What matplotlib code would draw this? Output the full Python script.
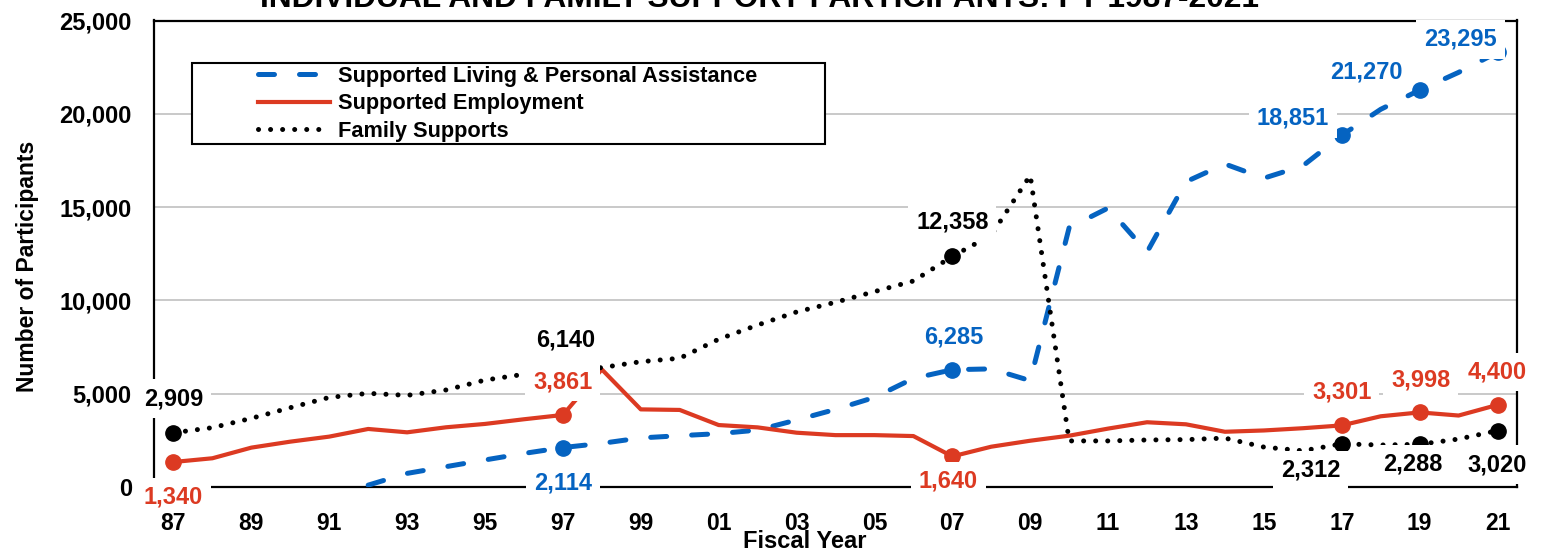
import numpy as np
import matplotlib.pyplot as plt
from matplotlib.patches import Rectangle

plt.rcParams['font.family'] = ['Liberation Sans', 'DejaVu Sans']
plt.rcParams['font.weight'] = 'bold'

title = "INDIVIDUAL AND FAMILY SUPPORT PARTICIPANTS: FY 1987-2021"

years = ['87', '88', '89', '90', '91', '92', '93', '94', '95', '96',
         '97', '98', '99', '00', '01', '02', '03', '04', '05', '06',
         '07', '08', '09', '10', '11', '12', '13', '14', '15', '16',
         '17', '18', '19', '20', '21']

nan = np.nan
living = [nan, nan, nan, nan, nan, 100, 730, 1090, 1450, 1800,
          2114, 2340, 2630, 2750, 2860, 3050, 3590, 4160, 4800, 5820,
          6285, 6330, 5700, 13900, 14950, 12590, 16360, 17310, 16550, 17210,
          18851, 20240, 21270, 22220, 23295]
employment = [1340, 1540, 2110, 2430, 2700, 3110, 2930, 3200, 3380, 3630,
              3861, 6300, 4160, 4130, 3320, 3195, 2910, 2780, 2780, 2730,
              1640, 2160, 2480, 2750, 3130, 3470, 3360, 2960, 3030, 3150,
              3301, 3790, 3998, 3830, 4400]
family = [2909, 3180, 3680, 4250, 4800, 5020, 4910, 5200, 5730, 6040,
          6140, 6400, 6715, 6900, 7920, 8680, 9380, 9900, 10470, 11040,
          12358, 13500, 16700, 2470, 2470, 2520, 2540, 2620, 2140, 1940,
          2312, 2250, 2288, 2570, 3020]

BLUE = '#0563C1'
RED = '#DC3A22'
BLACK = '#000000'

# label offsets in pixels (dx, dy) for each labeled year
off_family = {'87': (0, 34), '97': (3, 32), '07': (0, 34), '17': (-31, -26), '19': (-7, -20), '21': (0, -34)}
off_employment = {'87': (0, -35), '97': (0, 33), '07': (-4, -25), '17': (0, 33), '19': (1, 32), '21': (0, 33)}
off_living = {'97': (0, -35), '07': (1, 33), '17': (-49, 17), '19': (-53, 18), '21': (-37, 13)}

fig = plt.figure(figsize=(15.67, 5.54), dpi=100)
ax = fig.add_axes([154 / 1567, 1 - 487 / 554, 1363 / 1567, 466.5 / 554])

x = np.arange(len(years))
lw = 3.6

ax.plot(x, living, color=BLUE, lw=lw, dashes=(3.2, 5.0), dash_capstyle='round',
        solid_capstyle='round', label='Supported Living & Personal Assistance', zorder=3)
ax.plot(x, employment, color=RED, lw=3.0, solid_joinstyle='round',
        label='Supported Employment', zorder=3)
ax.plot(x, family, color=BLACK, lw=lw, dashes=(0.01, 2.4), dash_capstyle='round',
        label='Family Supports', zorder=3)

series = [(family, BLACK, off_family),
          (employment, RED, off_employment),
          (living, BLUE, off_living)]

for vals, color, offs in series:
    for yr in offs:
        i = years.index(yr)
        ax.plot(x[i], vals[i], 'o', color=color, ms=11, zorder=4)
for vals, color, offs in series:
    for yr, (dx, dy) in offs.items():
        i = years.index(yr)
        ax.annotate(f"{vals[i]:,.0f}", (x[i], vals[i]), xytext=(dx, dy),
                    textcoords='offset pixels', ha='center', va='center',
                    fontsize=17, fontweight='bold', color=color, zorder=10,
                    annotation_clip=False,
                    bbox=dict(boxstyle='square,pad=0.33', fc='white', ec='none'))

ax.set_xlim(-0.5, len(years) - 0.5)
ax.set_ylim(0, 25000)
ax.set_yticks(range(0, 25001, 5000))
ax.set_yticklabels([f"{v:,}" for v in range(0, 25001, 5000)])
ax.set_xticks(x[::2])
ax.set_xticklabels(years[::2])
ax.tick_params(axis='y', length=0, pad=16, labelsize=17)
ax.tick_params(axis='x', length=0, pad=18, labelsize=16.5)
ax.yaxis.grid(True, color='#C0C0C0', lw=1.2)
ax.set_axisbelow(True)
ax.xaxis.set_zorder(11)  # tick labels above the data-label boxes
for s in ax.spines.values():
    s.set_linewidth(1.6)
    s.set_color('black')

# legend box
ax.add_patch(Rectangle((192 / 1567, 1 - 144.3 / 554), 633 / 1567, 81 / 554,
                       transform=fig.transFigure, fc='white', ec='black', lw=1.5,
                       zorder=6, clip_on=False))
leg = ax.legend(loc='center left', bbox_to_anchor=(258 / 1567, 1 - 103.7 / 554),
                bbox_transform=fig.transFigure, frameon=False, fontsize=15.7,
                handlelength=3.3, handletextpad=0.37, labelspacing=0.3, borderpad=0,
                borderaxespad=0)
leg.set_zorder(7)

fig.text(759 / 1567, 1 - 6.7 / 554, title, ha='center', va='baseline',
         fontsize=22.9, fontweight='bold')
fig.text(27.5 / 1567, 1 - 266 / 554, 'Number of Participants', rotation=90,
         ha='center', va='center', fontsize=16.5, fontweight='bold')
fig.text(805 / 1567, 1 - 541 / 554, 'Fiscal Year', ha='center', va='center',
         fontsize=17, fontweight='bold')

fig.savefig('out.png', dpi=100)
